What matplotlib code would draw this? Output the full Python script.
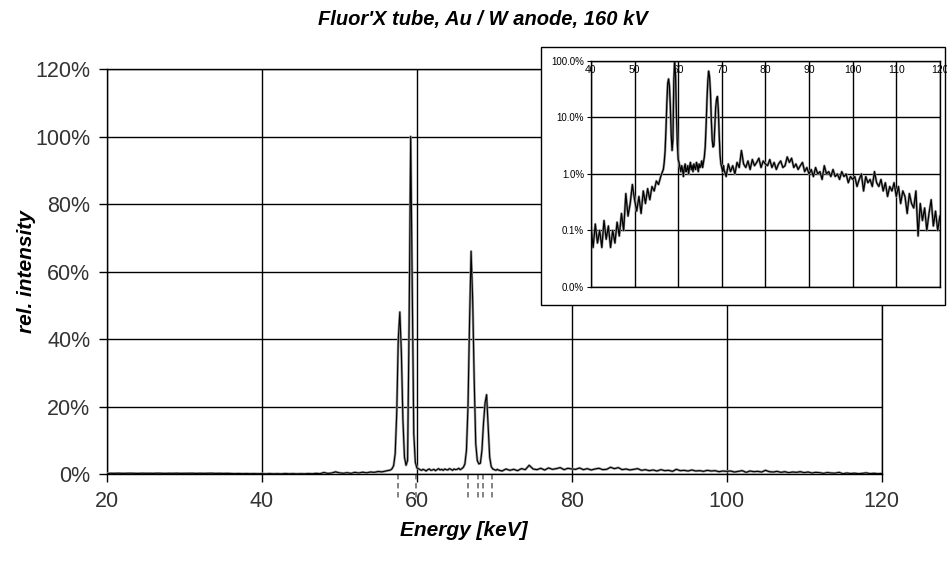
import numpy as np
import matplotlib.pyplot as plt
from matplotlib.patches import Rectangle

plt.rcParams['font.family'] = ['Liberation Sans', 'DejaVu Sans']

# Spectrum, intensity in % of the highest peak
energy_a = np.arange(20.0, 56.01, 0.5)      # coarse channels below the K lines
intensity_a = [
    0.18, 0.22, 0.2, 0.25, 0.19, 0.21, 0.24, 0.2, 0.18, 0.23,
    0.2, 0.22, 0.19, 0.25, 0.21, 0.18, 0.22, 0.2, 0.24, 0.19,
    0.21, 0.2, 0.23, 0.18, 0.22, 0.19, 0.2, 0.24, 0.18, 0.21,
    0.17, 0.2, 0.15, 0.12, 0.16, 0.11, 0.14, 0.1, 0.13, 0.09,
    0.12, 0.05, 0.13, 0.06, 0.1, 0.05, 0.15, 0.07, 0.12, 0.05,
    0.1, 0.06, 0.14, 0.08, 0.2, 0.1, 0.45, 0.18, 0.3, 0.65,
    0.35, 0.22, 0.4, 0.2, 0.5, 0.3, 0.55, 0.35, 0.6, 0.5,
    0.75, 0.65, 0.9,
]
energy_b = np.arange(56.2, 70.41, 0.2)      # fine channels around the K lines
intensity_b = [
    1.0, 1.1, 1.2, 1.6, 2.5, 6, 18, 40, 48, 36,
    16, 5, 2.6, 4, 45, 100, 55, 12, 3.5, 1.8,
    1.6, 1.3, 1.1, 1.4, 1.2, 0.9, 1.3, 1.5, 1.1, 1.2,
    1.4, 1.0, 1.3, 1.6, 1.2, 1.4, 1.1, 1.5, 1.3, 1.2,
    1.6, 1.4, 1.1, 1.5, 1.3, 1.4, 1.7, 1.3, 1.6, 2.0,
    3.0, 7, 20, 45, 66, 52, 28, 9, 4, 3.0,
    3.2, 7, 15, 21, 23.5, 14, 5, 2.2, 1.5, 1.3,
    1.1, 1.4,
]
energy_c = np.arange(70.5, 120.01, 0.5)     # continuum above the K lines
intensity_c = [
    1.2, 0.9, 1.5, 1.1, 1.4, 1.0, 1.6, 1.3, 2.6, 1.5,
    1.3, 1.7, 1.2, 1.8, 1.4, 1.6, 1.9, 1.3, 1.7, 1.5,
    1.4, 1.8, 1.3, 1.6, 1.2, 1.5, 1.7, 1.3, 1.4, 2.0,
    1.6, 1.9, 1.3, 1.5, 1.2, 1.4, 1.6, 1.1, 1.3, 1.0,
    1.2, 0.9, 1.3, 1.0, 1.1, 0.8, 1.4, 1.0, 1.1, 0.9,
    1.2, 0.9, 1.0, 0.8, 1.1, 0.9, 1.0, 0.7, 0.9, 0.8,
    0.9, 0.6, 0.8, 1.0, 0.5, 0.9, 0.7, 0.8, 0.6, 1.1,
    0.7, 0.6, 0.8, 0.5, 0.7, 0.4, 0.6, 0.5, 0.7, 0.4,
    0.6, 0.3, 0.5, 0.4, 0.2, 0.45, 0.3, 0.25, 0.5, 0.08,
    0.3, 0.15, 0.25, 0.1, 0.2, 0.35, 0.12, 0.22, 0.1, 0.18,
]
# line markers below the axis (keV)
line_energies = [57.5, 59.9, 66.6, 67.85, 68.6, 69.65]

energy = np.concatenate([energy_a, energy_b, energy_c])
intensity = np.concatenate([intensity_a, intensity_b, intensity_c])

fig = plt.figure(figsize=(9.47, 5.61), dpi=100)
ax = fig.add_axes([0.113, 0.155, 0.818, 0.722])

ax.plot(energy, intensity, color='#9a9a9a', lw=1.8, zorder=3)
ax.plot(energy, intensity, color='black', lw=0.8, zorder=4)
for e in line_energies:
    ax.plot([e, e], [0, -7], color='#7a7a7a', lw=1.3, ls=(0, (3, 2)),
            clip_on=False, zorder=2)

ax.set_xlim(20, 120)
ax.set_ylim(0, 120)
ax.set_xticks(range(20, 121, 20))
ax.set_yticks(range(0, 121, 20))
ax.set_yticklabels([f'{v}%' for v in range(0, 121, 20)])
ax.grid(True, color='black', lw=1.0)
ax.set_axisbelow(True)
for s in ax.spines.values():
    s.set_linewidth(1.0)
ax.tick_params(direction='out', length=6, width=1.0, labelsize=15.5,
               labelcolor='#333333', pad=6)
ax.set_xlabel('Energy [keV]', fontsize=15, fontweight='bold', style='italic')
ax.xaxis.set_label_coords(0.46, -0.115)
ax.set_ylabel('rel. intensity', fontsize=15, fontweight='bold', style='italic')
ax.yaxis.set_label_coords(-0.092, 0.5)
fig.text(0.51, 0.965, "Fluor'X tube, Au / W anode, 160 kV", ha='center', va='center',
         fontsize=14.5, fontweight='bold', style='italic')

# inset frame and log-scale inset
fig.patches.append(Rectangle((0.571, 0.456), 0.427, 0.46, transform=fig.transFigure,
                             facecolor='white', edgecolor='black', lw=1.0, zorder=2))
ins = fig.add_axes([0.624, 0.4884, 0.3685, 0.403])
ins.set_zorder(3)
ins.plot(energy, intensity, color='#9a9a9a', lw=1.8)
ins.plot(energy, intensity, color='black', lw=0.9)
ins.set_yscale('log')
ins.set_xlim(40, 120)
ins.set_ylim(0.01, 100)
ins.set_yticks([0.01, 0.1, 1, 10, 100])
ins.set_yticklabels(['0.0%', '0.1%', '1.0%', '10.0%', '100.0%'])
ins.minorticks_off()
ins.set_xticks(range(40, 121, 10))
ins.xaxis.tick_top()
ins.tick_params(axis='x', direction='in', length=0, pad=-10, labelsize=7.5)
ins.tick_params(axis='y', direction='out', length=3, labelsize=7, pad=2)
ins.grid(True, color='black', lw=1.0)
for s in ins.spines.values():
    s.set_linewidth(1.0)

fig.savefig('out.png', dpi=100)
